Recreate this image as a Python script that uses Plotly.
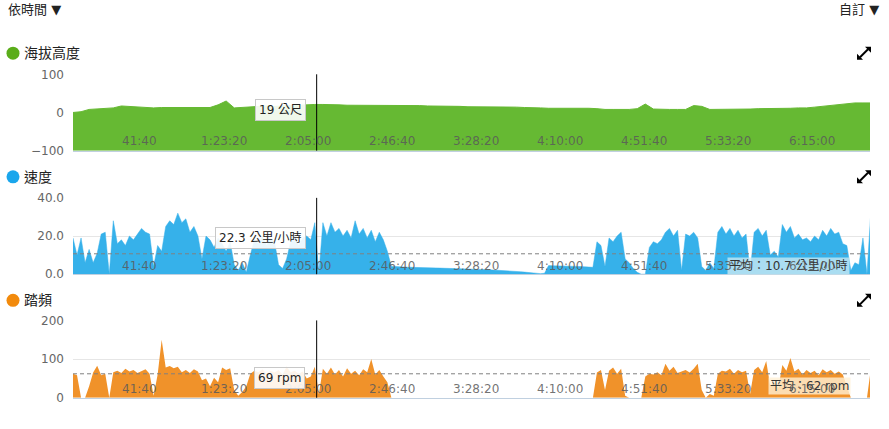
import plotly.graph_objects as go

W, H = 889, 429

tick_vals = [2500, 5000, 7500, 10000, 12500, 15000, 17500, 20000, 22500]
tick_text = ["41:40", "1:23:20", "2:05:00", "2:46:40", "3:28:20",
             "4:10:00", "4:51:40", "5:33:20", "6:15:00"]
x_range = [510, 24240]

# elevation (m), one sample every 240 s from 510 s
elev_start, elev_step = 510, 240
elevation = [
    0, 2, 8, 9, 10, 12, 17, 16, 14, 13,
    12, 13, 13, 12, 12, 13, 13, 13, 20, 30,
    12, 13, 14, 16, 17, 16, 17, 19, 20, 20,
    21, 21, 21, 20, 19, 19, 18, 19, 19, 19,
    19, 19, 18, 18, 17, 17, 17, 16, 16, 15,
    15, 15, 14, 14, 14, 14, 13, 13, 12, 11,
    11, 11, 12, 12, 11, 10, 8, 8, 8, 8,
    10, 22, 9, 8, 8, 8, 8, 18, 16, 8,
    8, 9, 9, 9, 9, 10, 10, 10, 11, 11,
    12, 12, 14, 16, 18, 21, 23, 25, 25, 25,
]

# speed (km/h) and cadence (rpm), one sample every 120 s from 510 s
sample_start, sample_step = 510, 120
speed = [
    19, 10, 19, 6, 13, 6, 11, 21, 22, 0,
    28, 16, 18, 15, 20, 18, 21, 24, 22, 21,
    4, 15, 12, 25, 28, 26, 32, 27, 29, 22,
    25, 20, 8, 20, 18, 14, 19, 16, 12, 17,
    5, 2, 6, 1, 10, 18, 16, 20, 15, 19,
    17, 5, 3, 8, 17, 20, 15, 19, 20, 18,
    27, 0, 27, 20, 27, 22, 24, 20, 23, 19,
    28, 21, 24, 19, 23, 17, 22, 18, 12, 4,
    4, 3.8, 3.7, 3.7, 3.6, 3.6, 3.5, 3.5, 3.4, 3.4,
    3.3, 3.2, 3.1, 3.1, 3.0, 2.9, 2.9, 2.8, 2.7, 2.7,
    2.6, 2.5, 2.5, 2.4, 2.3, 2.2, 2.1, 2.0, 1.9, 1.7,
    1.5, 1.3, 1.1, 0.9, 0.7, 0.5, 0.3, 0.5, 4.5, 4.4,
    4.4, 4.3, 4.3, 4.2, 4.2, 4.1, 4.0, 3.9, 3.8, 3.6,
    17, 15, 4, 19, 17, 20, 22, 8, 6, 3,
    1, 0, 0, 14, 17, 16, 18, 22, 24, 20,
    23, 2, 21, 20, 22, 19, 4, 2, 6, 3,
    22, 25, 21, 24, 20, 23, 19, 21, 1, 22,
    24, 20, 23, 10, 12, 9, 26, 22, 25, 19,
    21, 18, 19, 17, 20, 18, 23, 20, 24, 21,
    22, 16, 15, 2, 6, 5, 19, 0, 34, 5,
]
cadence = [
    62, 58, 0, 0, 30, 65, 83, 58, 62, 0,
    66, 70, 64, 75, 68, 72, 64, 70, 74, 62,
    5, 60, 150, 78, 82, 76, 80, 66, 72, 64,
    74, 68, 45, 50, 30, 52, 40, 78, 72, 76,
    20, 5, 15, 30, 62, 70, 66, 74, 62, 70,
    65, 72, 60, 80, 66, 70, 62, 68, 50, 55,
    80, 10, 75, 62, 78, 60, 72, 55, 76, 62,
    70, 58, 74, 66, 100, 60, 72, 55, 40, 0,
    0, 0, 0, 0, 0, 0, 0, 0, 0, 0,
    0, 0, 0, 0, 0, 0, 0, 0, 0, 0,
    0, 0, 0, 0, 0, 0, 0, 0, 0, 0,
    0, 0, 0, 0, 0, 0, 0, 0, 0, 0,
    0, 0, 0, 0, 0, 0, 0, 0, 0, 0,
    65, 72, 20, 70, 78, 62, 75, 5, 0, 0,
    0, 0, 55, 62, 60, 66, 58, 88, 70, 80,
    64, 68, 72, 65, 75, 88, 20, 0, 10, 5,
    62, 70, 68, 75, 62, 72, 66, 70, 10, 72,
    80, 66, 95, 30, 40, 25, 85, 70, 103, 68,
    75, 60, 72, 64, 70, 58, 74, 66, 72, 62,
    68, 60, 30, 0, 0, 0, 0, 0, 78, 60,
]

speed_avg = 10.7
cadence_avg = 62
cursor_time = 7765
cursor_text = ["19 公尺", "22.3 公里/小時", "69 rpm"]
panel_titles = ["海拔高度", "速度", "踏頻"]
panel_dots = ["#5aad1a", "#1aa6ec", "#f28a0c"]
fill_colors = ["#66b933", "#36b1ea", "#f0922a"]

elev_time = [elev_start + elev_step * i for i in range(len(elevation))]
sample_time = [sample_start + sample_step * i for i in range(len(speed))]

FONT = "DejaVu Sans, Noto Sans CJK TC, sans-serif"

# the page ends up drawn a little lower and shorter than asked for,
# so targets in picture pixels are mapped back onto the paper here
Y_OFF, Y_SCALE = 8.0, 0.963


def px(x):
    return x / W


def py(y):
    return 1 - ((y - Y_OFF) / Y_SCALE) / H


fig = go.Figure()

fig.add_trace(go.Scatter(x=[elev_time[0], elev_time[-1]], y=[-100, -100],
                         mode="lines", line=dict(width=0),
                         hoverinfo="skip", xaxis="x", yaxis="y"))
fig.add_trace(go.Scatter(x=elev_time, y=elevation, mode="lines",
                         fill="tonexty", fillcolor=fill_colors[0],
                         line=dict(color=fill_colors[0], width=1),
                         hoverinfo="skip", xaxis="x", yaxis="y"))
fig.add_trace(go.Scatter(x=sample_time, y=speed, mode="lines",
                         fill="tozeroy", fillcolor=fill_colors[1],
                         line=dict(color=fill_colors[1], width=0.5),
                         hoverinfo="skip", xaxis="x2", yaxis="y2"))
fig.add_trace(go.Scatter(x=sample_time, y=cadence, mode="lines",
                         fill="tozeroy", fillcolor=fill_colors[2],
                         line=dict(color=fill_colors[2], width=0),
                         hoverinfo="skip", xaxis="x3", yaxis="y3"))

# plot areas in pixels (top, bottom)
panels = [(75, 151), (198, 274), (320, 397)]
x_dom = [px(73), px(870)]

xaxis_style = dict(range=x_range, domain=x_dom, showticklabels=False,
                   ticks="", showgrid=False, zeroline=False,
                   showline=True, linecolor="#c0d0e0", linewidth=1)
yaxis_style = dict(showgrid=True, gridcolor="#e6e6e6", zeroline=False,
                   ticks="", ticklabelstandoff=8,
                   tickfont=dict(family=FONT, size=12, color="#666"))

fig.update_layout(
    xaxis=dict(**xaxis_style, anchor="y"),
    xaxis2=dict(**xaxis_style, anchor="y2"),
    xaxis3=dict(**xaxis_style, anchor="y3"),
    yaxis=dict(**yaxis_style, range=[-100, 100], tickvals=[-100, 0, 100],
               domain=[py(panels[0][1]), py(panels[0][0])]),
    yaxis2=dict(**yaxis_style, range=[0, 40], tickvals=[0, 20, 40],
                ticktext=["0.0", "20.0", "40.0"],
                domain=[py(panels[1][1]), py(panels[1][0])]),
    yaxis3=dict(**yaxis_style, range=[0, 200], tickvals=[0, 100, 200],
                domain=[py(panels[2][1]), py(panels[2][0])]),
)

shapes = []
annotations = []

for xr, yr in [("x", "y"), ("x2", "y2"), ("x3", "y3")]:
    shapes.append(dict(type="line", xref=xr, yref=yr + " domain",
                       x0=cursor_time, x1=cursor_time, y0=0, y1=1,
                       line=dict(color="black", width=1)))

for xr, yr, val in [("x2", "y2", speed_avg), ("x3", "y3", cadence_avg)]:
    shapes.append(dict(type="line", xref=xr + " domain", yref=yr,
                       x0=0, x1=1, y0=val, y1=val,
                       line=dict(color="#808080", width=1, dash="4px,3px")))

# average labels first so the time labels are drawn over them
annotations.append(dict(text="平均：{} 公里/小時".format(speed_avg),
                        xref="paper", yref="paper", x=px(788), y=py(266),
                        xanchor="center", yanchor="middle", showarrow=False,
                        bgcolor="rgba(200,232,242,0.8)", borderpad=1,
                        font=dict(family=FONT, size=12, color="#333")))
annotations.append(dict(text="平均：{} rpm".format(cadence_avg),
                        xref="paper", yref="paper", x=px(809), y=py(385),
                        xanchor="center", yanchor="middle", showarrow=False,
                        bgcolor="rgba(255,240,212,0.8)", borderpad=1,
                        font=dict(family=FONT, size=12, color="#333")))

# time labels drawn inside each panel, just above its base line
label_offset = [10, 8, 9]
for k, xr in enumerate(["x", "x2", "x3"]):
    for tv, tt in zip(tick_vals, tick_text):
        annotations.append(dict(text=tt, xref=xr, yref="paper", x=tv,
                                y=py(panels[k][1] - label_offset[k]),
                                xanchor="center", yanchor="middle",
                                showarrow=False,
                                font=dict(family=FONT, size=12,
                                          color="rgba(90,90,90,0.85)")))

title_y = [54, 177, 300]
for k in range(3):
    cy = title_y[k]
    shapes.append(dict(type="circle", xref="paper", yref="paper",
                       x0=px(6.5), x1=px(19.5), y0=py(cy + 6.5),
                       y1=py(cy - 6.5), fillcolor=panel_dots[k],
                       line=dict(width=0)))
    annotations.append(dict(text=panel_titles[k], xref="paper", yref="paper",
                            x=px(22), y=py(cy), xanchor="left",
                            yanchor="middle", showarrow=False,
                            font=dict(family=FONT, size=14, color="#222")))
    # expand icon
    shapes.append(dict(type="line", xref="paper", yref="paper",
                       x0=px(860), y0=py(cy + 4), x1=px(868), y1=py(cy - 4),
                       line=dict(color="black", width=2)))
    shapes.append(dict(type="path", xref="paper", yref="paper",
                       path="M {} {} L {} {} L {} {} Z".format(
                           px(871), py(cy - 6.5), px(865), py(cy - 6.5),
                           px(871), py(cy - 0.5)),
                       fillcolor="black", line=dict(width=0)))
    shapes.append(dict(type="path", xref="paper", yref="paper",
                       path="M {} {} L {} {} L {} {} Z".format(
                           px(857), py(cy + 6.5), px(863), py(cy + 6.5),
                           px(857), py(cy + 0.5)),
                       fillcolor="black", line=dict(width=0)))

tip_pos = [(280, 111), (260, 238), (279.5, 377.5)]
for k in range(3):
    annotations.append(dict(text=cursor_text[k], xref="paper", yref="paper",
                            x=px(tip_pos[k][0]), y=py(tip_pos[k][1]),
                            xanchor="center", yanchor="middle",
                            showarrow=False, bgcolor="rgba(255,255,255,0.9)",
                            bordercolor="#c8c8c8", borderwidth=1, borderpad=3,
                            font=dict(family=FONT, size=12, color="#222")))

annotations.append(dict(text="依時間 ▼", xref="paper", yref="paper",
                        x=px(6), y=py(10), xanchor="left", yanchor="middle",
                        showarrow=False,
                        font=dict(family=FONT, size=13, color="#222")))
annotations.append(dict(text="自訂 ▼", xref="paper", yref="paper",
                        x=px(881), y=py(10), xanchor="right",
                        yanchor="middle", showarrow=False,
                        font=dict(family=FONT, size=13, color="#222")))

fig.update_layout(width=W, height=H, margin=dict(l=0, r=0, t=0, b=0),
                  paper_bgcolor="white", plot_bgcolor="white",
                  showlegend=False, shapes=shapes, annotations=annotations,
                  font=dict(family=FONT))

fix_page = ("document.documentElement.style.margin='0';"
            "document.body.style.margin='0';"
            "document.body.style.overflow='hidden';"
            "var gd=document.getElementById('{plot_id}');"
            "Plotly.relayout(gd,{width:%d,height:%d});" % (W, H))

fig.write_html("out.html", config={"displayModeBar": False},
               post_script=fix_page)
